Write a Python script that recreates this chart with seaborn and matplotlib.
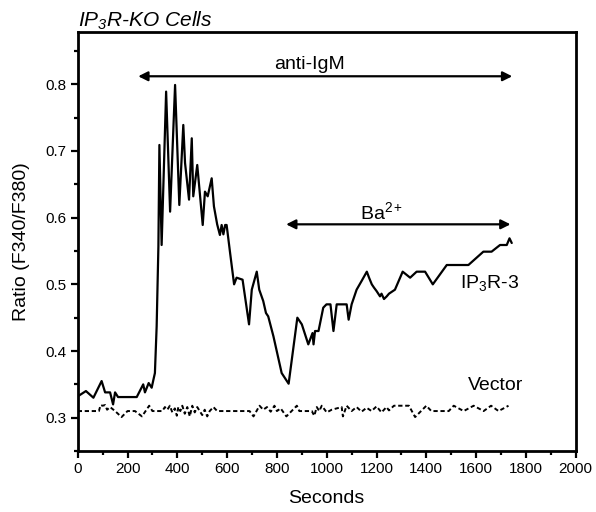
import numpy as np
import pandas as pd
import matplotlib
matplotlib.use("Agg")
import matplotlib.pyplot as plt
import seaborn as sns
from matplotlib.ticker import MultipleLocator

# IP3R-3 trace (seconds, ratio)
ip3r3_t = [0, 33, 63, 96, 110, 130, 142, 150, 162, 237, 263, 270, 285, 297, 304, 310,
           317, 324, 328, 337, 355, 371, 391, 408, 424, 431, 447, 458, 464, 480, 502,
           511, 522, 538, 547, 560, 571, 578, 585, 592, 598, 612, 628, 638, 662, 688,
           699, 719, 729, 745, 756, 765, 786, 819, 847, 882, 900, 926, 943, 947, 953,
           967, 986, 999, 1015, 1027, 1040, 1080, 1088, 1100, 1120, 1140, 1161, 1170,
           1181, 1190, 1200, 1214, 1220, 1230, 1241, 1250, 1274, 1305, 1335, 1361, 1395,
           1426, 1482, 1569, 1629, 1662, 1696, 1723, 1734, 1743]
ip3r3_y = [0.332, 0.340, 0.330, 0.355, 0.338, 0.338, 0.320, 0.338, 0.331, 0.331, 0.350,
           0.338, 0.352, 0.345, 0.357, 0.367, 0.437, 0.557, 0.709, 0.559, 0.789, 0.609,
           0.799, 0.619, 0.739, 0.682, 0.627, 0.719, 0.632, 0.679, 0.589, 0.639, 0.632,
           0.659, 0.617, 0.590, 0.574, 0.589, 0.575, 0.589, 0.589, 0.547, 0.500, 0.510,
           0.507, 0.440, 0.492, 0.519, 0.492, 0.475, 0.457, 0.452, 0.422, 0.367, 0.351,
           0.450, 0.440, 0.410, 0.427, 0.410, 0.430, 0.430, 0.465, 0.470, 0.470, 0.430,
           0.470, 0.470, 0.447, 0.470, 0.492, 0.505, 0.519, 0.510, 0.500, 0.495, 0.490,
           0.482, 0.486, 0.478, 0.482, 0.486, 0.492, 0.519, 0.510, 0.519, 0.519, 0.500,
           0.529, 0.529, 0.549, 0.549, 0.559, 0.559, 0.569, 0.562]

# Vector control trace
vector_t = [0, 85, 92, 100, 110, 118, 130, 150, 176, 200, 230, 258, 287, 300, 340, 350,
            360, 370, 380, 390, 398, 404, 412, 420, 430, 440, 450, 460, 470, 480, 490,
            500, 510, 520, 530, 545, 560, 690, 706, 730, 745, 760, 775, 790, 800, 815,
            838, 880, 890, 940, 950, 960, 970, 980, 1000, 1020, 1060, 1065, 1080, 1100,
            1120, 1140, 1160, 1180, 1200, 1220, 1240, 1250, 1270, 1330, 1355, 1400, 1420,
            1490, 1510, 1550, 1590, 1630, 1660, 1690, 1730]
vector_y = [0.310, 0.310, 0.319, 0.318, 0.319, 0.312, 0.316, 0.310, 0.301, 0.310, 0.310,
            0.302, 0.318, 0.310, 0.310, 0.316, 0.312, 0.318, 0.308, 0.314, 0.303, 0.316,
            0.310, 0.318, 0.306, 0.316, 0.302, 0.318, 0.308, 0.316, 0.310, 0.304, 0.312,
            0.302, 0.310, 0.316, 0.310, 0.310, 0.302, 0.318, 0.312, 0.316, 0.309, 0.318,
            0.310, 0.314, 0.302, 0.318, 0.310, 0.310, 0.303, 0.316, 0.310, 0.318, 0.308,
            0.312, 0.316, 0.302, 0.318, 0.310, 0.316, 0.309, 0.315, 0.310, 0.317, 0.308,
            0.316, 0.311, 0.318, 0.318, 0.301, 0.318, 0.310, 0.310, 0.318, 0.310, 0.318,
            0.310, 0.318, 0.310, 0.318]

ip3r3 = pd.DataFrame({"t": ip3r3_t, "ratio": ip3r3_y})
vector = pd.DataFrame({"t": vector_t, "ratio": vector_y})

sns.set_style("ticks", {"axes.edgecolor": "black", "xtick.color": "black",
                        "ytick.color": "black", "text.color": "black",
                        "axes.labelcolor": "black"})
plt.rcParams['font.family'] = ['Liberation Sans', 'DejaVu Sans']
plt.rcParams['mathtext.fontset'] = 'custom'
plt.rcParams['mathtext.rm'] = 'Liberation Sans'
plt.rcParams['mathtext.it'] = 'Liberation Sans:italic'
plt.rcParams['mathtext.default'] = 'regular'

fig = plt.figure(figsize=(5.96, 5.12), dpi=100)
ax = fig.add_axes([0.1304, 0.119, 0.8356, 0.818])

sns.lineplot(data=ip3r3, x="t", y="ratio", color="black", lw=1.6, ax=ax)
sns.lineplot(data=vector, x="t", y="ratio", color="black", lw=1.4,
             linestyle=(0, (2.2, 1.4)), ax=ax)

ax.set_xlim(0, 2000)
ax.set_ylim(0.25, 0.878)
ax.xaxis.set_major_locator(MultipleLocator(200))
ax.xaxis.set_minor_locator(MultipleLocator(100))
ax.yaxis.set_major_locator(MultipleLocator(0.1))
ax.yaxis.set_minor_locator(MultipleLocator(0.05))
ax.tick_params(which='major', length=5, width=1.6, labelsize=11, pad=3)
ax.tick_params(which='minor', length=3, width=1.6)
for s in ax.spines.values():
    s.set_linewidth(2)

ax.set_xlabel("Seconds", fontsize=14, labelpad=10)
ax.set_ylabel("Ratio (F340/F380)", fontsize=14, labelpad=11)

ax.text(0.0, 1.014, "IP$_3$R-KO Cells", transform=ax.transAxes, fontsize=15,
        fontstyle='italic', va='baseline', ha='left')

arrow = dict(arrowstyle='<|-|>', color='black', lw=1.6, mutation_scale=14,
             shrinkA=0, shrinkB=0)
ax.annotate("", xy=(243, 0.812), xytext=(1745, 0.812), arrowprops=arrow)
ax.text(930, 0.830, "anti-IgM", fontsize=14, ha='center', va='center')
ax.annotate("", xy=(837, 0.590), xytext=(1738, 0.590), arrowprops=arrow)
ax.text(1220, 0.609, "Ba$^{2+}$", fontsize=14, ha='center', va='center')

ax.text(1535, 0.502, "IP$_3$R-3", fontsize=14, va='center', ha='left')
ax.text(1565, 0.348, "Vector", fontsize=14, va='center', ha='left')

fig.savefig("out.png", dpi=100)
